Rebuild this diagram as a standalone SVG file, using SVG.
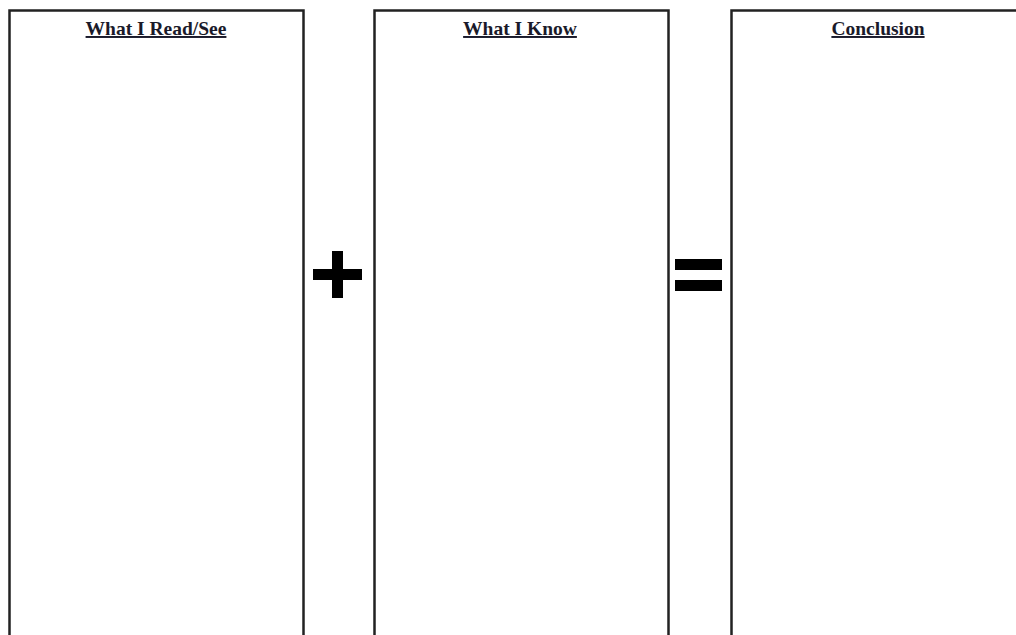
<svg xmlns="http://www.w3.org/2000/svg" width="1016" height="635" viewBox="0 0 1016 635">
<style>
.box{fill:#fff;stroke:#222;stroke-width:2.5}
.title{font-family:"Liberation Serif",serif;font-weight:bold;font-size:19.5px;fill:#1a1a2a;text-anchor:middle;text-decoration:underline}
.sym{fill:#000}
</style>
<rect width="1016" height="635" fill="#fff"/>
<g id="node-read">
<rect class="box" x="9.5" y="10.5" width="294" height="640"/>
<text class="title" x="156" y="35">What I Read/See</text>
</g>
<g id="node-plus">
<rect class="sym" x="313" y="269" width="49" height="11"/>
<rect class="sym" x="332" y="251" width="11" height="47"/>
</g>
<g id="node-know">
<rect class="box" x="374.5" y="10.5" width="294" height="640"/>
<text class="title" x="520" y="35">What I Know</text>
</g>
<g id="node-equals">
<rect class="sym" x="675" y="259" width="47" height="11"/>
<rect class="sym" x="675" y="280" width="47" height="11"/>
</g>
<g id="node-conclusion">
<rect class="box" x="731.5" y="10.5" width="294" height="640"/>
<text class="title" x="878" y="35">Conclusion</text>
</g>
<g id="connectors"></g>
</svg>
